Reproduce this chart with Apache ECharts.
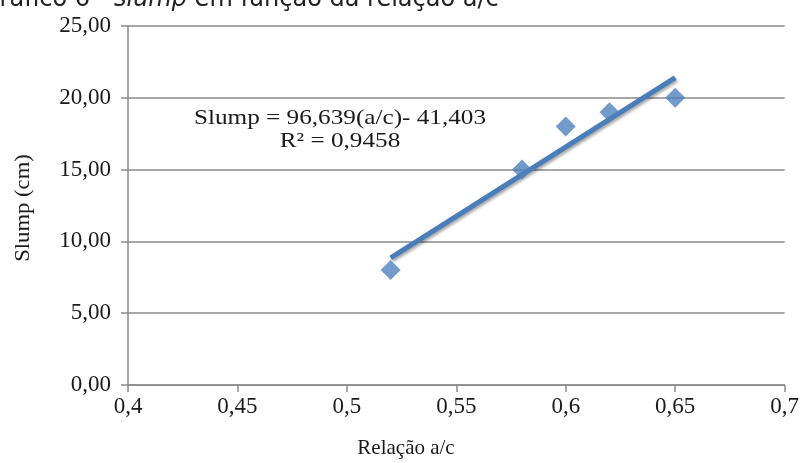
<!DOCTYPE html>
<html>
<head>
<meta charset="utf-8">
<script src="https://cdn.jsdelivr.net/npm/echarts@6/dist/echarts.min.js"></script>
<style>
  html, body { margin: 0; padding: 0; background: #fff; }
  #chart { width: 802px; height: 463px; }
</style>
</head>
<body>
<div id="chart"></div>
<script>
// Measured water/cement ratios and slump values
const ratioAC = [0.52, 0.58, 0.60, 0.62, 0.65];
const slumpCm = [8, 15, 18, 19, 20];

// Linear trendline coefficients as printed on the chart
const trendSlope = 96.639;
const trendIntercept = -41.403;
const trendRange = [0.52, 0.65];

const xTicks = [0.4, 0.45, 0.5, 0.55, 0.6, 0.65, 0.7];
const yTicks = [0, 5, 10, 15, 20, 25];

const trendData = trendRange.map(x => [x, trendSlope * x + trendIntercept]);
const pointData = ratioAC.map((x, i) => [x, slumpCm[i]]);

const serif = '"Liberation Serif", "Times New Roman", serif';
const gray = '#8a8a8a';
const ink = '#1a1a1a';

const chart = echarts.init(document.getElementById('chart'), null, { renderer: 'canvas' });
chart.setOption({
  animation: false,
  backgroundColor: '#ffffff',
  grid: { left: 128, right: 16, top: 26, bottom: 78, containLabel: false },
  xAxis: {
    type: 'value',
    min: xTicks[0], max: xTicks[xTicks.length - 1], interval: 0.05,
    axisLine: { show: true, lineStyle: { color: gray, width: 1.5 } },
    axisTick: { show: true, length: 7, lineStyle: { color: gray, width: 1.5 } },
    axisLabel: {
      fontFamily: serif, fontSize: 23, color: ink, margin: 10,
      formatter: v => String(+v.toFixed(2)).replace('.', ',')
    },
    splitLine: { show: false }
  },
  yAxis: {
    type: 'value',
    min: yTicks[0], max: yTicks[yTicks.length - 1], interval: 5,
    axisLine: { show: true, lineStyle: { color: gray, width: 1.5 } },
    axisTick: { show: true, length: 7, lineStyle: { color: gray, width: 1.5 } },
    axisLabel: {
      fontFamily: serif, fontSize: 23, color: ink, margin: 17,
      formatter: v => v.toFixed(2).replace('.', ',')
    },
    splitLine: { show: true, lineStyle: { color: gray, width: 1.5 } }
  },
  series: [
    {
      type: 'line',
      data: trendData,
      symbol: 'none',
      lineStyle: {
        color: '#4a7ebb', width: 5, cap: 'butt',
        shadowColor: 'rgba(0,0,0,0.35)', shadowBlur: 3,
        shadowOffsetX: 1.5, shadowOffsetY: 2
      },
      z: 2
    },
    {
      type: 'scatter',
      data: pointData,
      symbol: 'diamond',
      symbolSize: 20,
      itemStyle: { color: '#4f81bd' },
      z: 3
    }
  ],
  graphic: [
    {
      type: 'text',
      x: -19, y: 12,
      style: {
        text: '{n|Gráfico 6 - }{i|slump}{n| em função da relação a/c}',
        verticalAlign: 'bottom',
        rich: {
          n: { fontFamily: '"DejaVu Sans", sans-serif', fontSize: 24, fill: '#222' },
          i: { fontFamily: '"DejaVu Sans", sans-serif', fontSize: 24, fontStyle: 'italic', fill: '#222' }
        }
      }
    },
    {
      type: 'text',
      x: 340, y: 107,
      scaleX: 1.2,
      style: {
        text: 'Slump = 96,639(a/c)- 41,403\nR² = 0,9458',
        fontFamily: serif, fontSize: 21, fill: ink,
        align: 'center', lineHeight: 23
      }
    },
    {
      type: 'text',
      x: 406, y: 448,
      style: {
        text: 'Relação a/c',
        fontFamily: serif, fontSize: 21, fill: ink,
        align: 'center', verticalAlign: 'middle'
      }
    },
    {
      type: 'text',
      x: 23, y: 208,
      rotation: Math.PI / 2,
      scaleX: 1.08,
      style: {
        text: 'Slump (cm)',
        fontFamily: serif, fontSize: 21, fill: ink,
        align: 'center', verticalAlign: 'middle'
      }
    }
  ]
});
</script>
</body>
</html>
